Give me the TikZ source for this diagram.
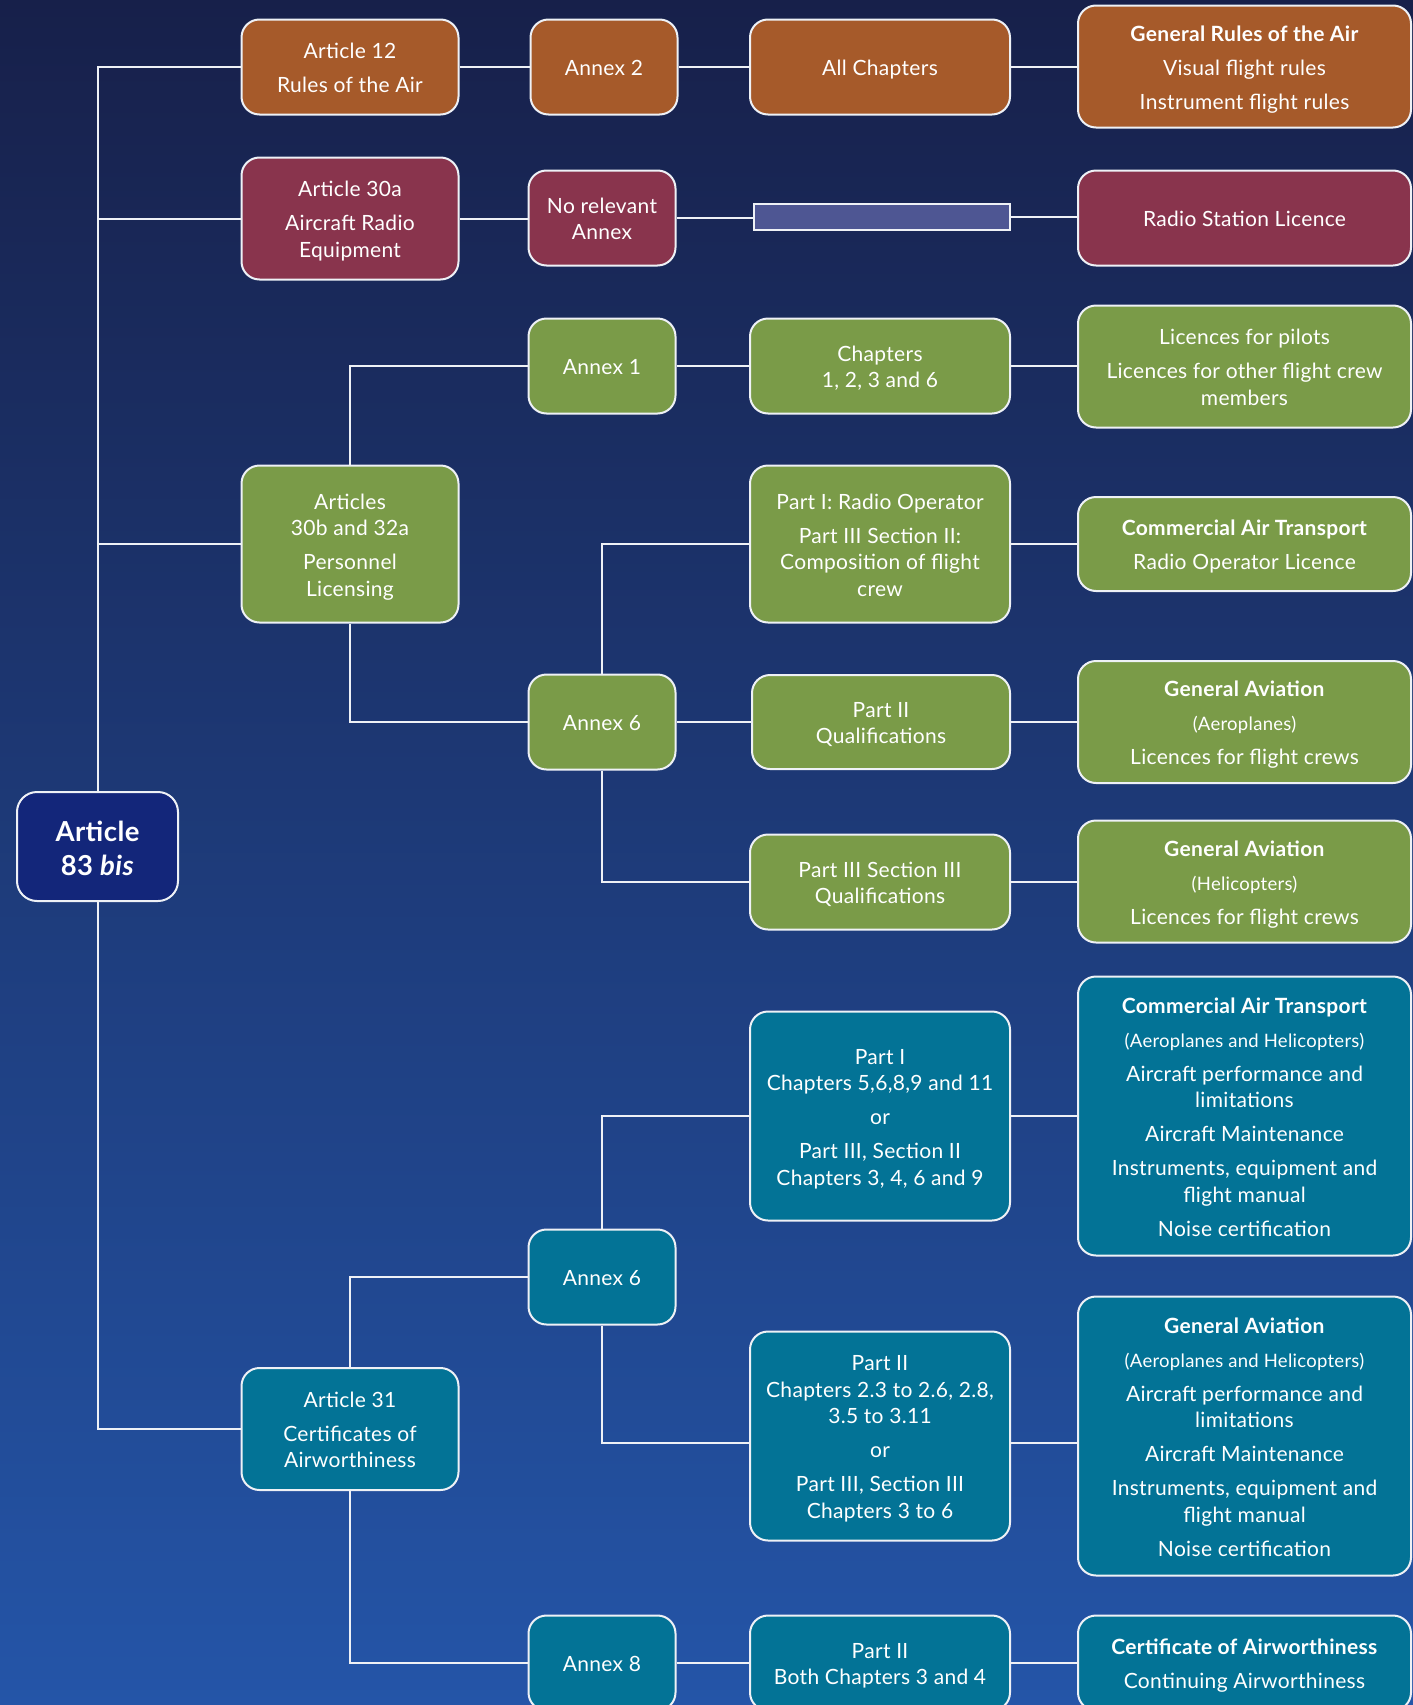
\documentclass[tikz,border=0pt]{standalone}
\usepackage{fontspec}
\setmainfont{Lato}[LetterSpace=1.5]
\usetikzlibrary{calc}
\definecolor{bgtop}{HTML}{17204A}
\definecolor{bgmid}{HTML}{1F3670}
\definecolor{bgbot}{HTML}{2455A8}
\definecolor{orangeb}{HTML}{A65A2A}
\definecolor{maroonb}{HTML}{89344D}
\definecolor{greenb}{HTML}{7A9B48}
\definecolor{tealb}{HTML}{037396}
\definecolor{navyb}{HTML}{13267A}
\definecolor{barb}{HTML}{4E5693}
\definecolor{linec}{HTML}{EEF1F6}
\newcommand\smtxt[1]{{\fontsize{18.5}{22}\selectfont #1}}
\newcommand\boxtext[2][25.4pt]{\begin{tabular}{@{}c@{}}\rule{0pt}{#1}#2\end{tabular}}
\begin{document}
\begin{tikzpicture}[x=1pt,y=-1pt,
  box/.style={draw=linec, line width=2pt, rounded corners=18pt, text=white,
    inner sep=0pt, font=\fontsize{21}{26.5}\selectfont},
  ctwo/.style={minimum width=217pt},
  cthree/.style={minimum width=147pt},
  cfour/.style={minimum width=260pt},
  cfive/.style={minimum width=333pt},
  conn/.style={draw=linec, line width=2pt}]
\useasboundingbox (0,0) rectangle (1413,1705);
\shade[top color=bgtop, middle color=bgmid, bottom color=bgbot] (0,0) rectangle (1413,1705);

% root
\node[box, fill=navyb, minimum width=161pt, minimum height=109pt, rounded corners=20pt,
  font=\fontsize{27.5}{34}\selectfont\bfseries] (art83) at (97.5,846.5) {\boxtext[33.8pt]{Article\\83 \textit{bis}}};

% column 2
\node[box, ctwo, fill=orangeb, minimum height=95pt] (art12) at (350,67) {\boxtext{Article 12\\[7.5pt]Rules of the Air}};
\node[box, ctwo, fill=maroonb, minimum height=122pt] (art30a) at (350,218.5) {\boxtext{Article 30a\\[7.5pt]Aircraft Radio\\Equipment}};
\node[box, ctwo, fill=greenb, minimum height=157pt] (art30b) at (350,544) {\boxtext{Articles\\30b and 32a\\[7.5pt]Personnel\\Licensing}};
\node[box, ctwo, fill=tealb, minimum height=122pt] (art31) at (350,1429) {\boxtext{Article 31\\[7.5pt]Certificates of\\Airworthiness}};

% column 3
\node[box, cthree, fill=orangeb, minimum height=95pt] (annex2) at (604,67) {\boxtext{Annex 2}};
\node[box, cthree, fill=maroonb, minimum height=95pt] (norel) at (602,218) {\boxtext{No relevant\\Annex}};
\node[box, cthree, fill=greenb, minimum height=95pt] (annex1) at (602,366) {\boxtext{Annex 1}};
\node[box, cthree, fill=greenb, minimum height=95pt] (annex6g) at (602,722) {\boxtext{Annex 6}};
\node[box, cthree, fill=tealb, minimum height=95pt] (annex6t) at (602,1277) {\boxtext{Annex 6}};
\node[box, cthree, fill=tealb, minimum height=95pt] (annex8) at (602,1663) {\boxtext{Annex 8}};

% column 4
\node[box, cfour, fill=orangeb, minimum height=95pt] (allch) at (880,67) {\boxtext{All Chapters}};
\node[draw=linec, line width=2pt, fill=barb, minimum width=256pt, minimum height=26pt, inner sep=0pt] (bar) at (882,217) {};
\node[box, cfour, fill=greenb, minimum height=95pt] (chap1236) at (880,366) {\boxtext{Chapters\\1, 2, 3 and 6}};
\node[box, cfour, fill=greenb, minimum height=157pt] (partIradio) at (880,544) {\boxtext{Part I: Radio Operator\\[7.5pt]Part III Section II:\\Composition of flight\\crew}};
\node[box, cfour, fill=greenb, minimum height=94pt, minimum width=258pt] (partIIqual) at (881,722) {\boxtext{Part II\\Qualifications}};
\node[box, cfour, fill=greenb, minimum height=95pt] (partIIIs3) at (880,882) {\boxtext{Part III Section III\\Qualifications}};
\node[box, cfour, fill=tealb, minimum height=209pt] (partIch) at (880,1116) {\boxtext{Part I\\Chapters 5,6,8,9 and 11\\[7.5pt]or\\[7.5pt]Part III, Section II\\Chapters 3, 4, 6 and 9}};
\node[box, cfour, fill=tealb, minimum height=209pt] (partIIch) at (880,1436) {\boxtext{Part II\\Chapters 2.3 to 2.6, 2.8,\\3.5 to 3.11\\[7.5pt]or\\[7.5pt]Part III, Section III\\Chapters 3 to 6}};
\node[box, cfour, fill=tealb, minimum height=95pt] (partIIboth) at (880,1663) {\boxtext{Part II\\Both Chapters 3 and 4}};

% column 5
\node[box, cfive, fill=orangeb, minimum height=122pt] (genrules) at (1244.5,66.5) {\boxtext{\textbf{General Rules of the Air}\\[7.5pt]Visual flight rules\\[7.5pt]Instrument flight rules}};
\node[box, cfive, fill=maroonb, minimum height=95pt] (radiost) at (1244.5,218) {\boxtext{Radio Station Licence}};
\node[box, cfive, fill=greenb, minimum height=122pt] (licpilots) at (1244.5,366.5) {\boxtext{Licences for pilots\\[7.5pt]Licences for other flight crew\\members}};
\node[box, cfive, fill=greenb, minimum height=94pt] (catradio) at (1244.5,544) {\boxtext{\textbf{Commercial Air Transport}\\[7.5pt]Radio Operator Licence}};
\node[box, cfive, fill=greenb, minimum height=122pt] (gaaero) at (1244.5,722) {\boxtext{\textbf{General Aviation}\\[7.5pt]\smtxt{(Aeroplanes)}\\[7.5pt]Licences for flight crews}};
\node[box, cfive, fill=greenb, minimum height=122pt] (gaheli) at (1244.5,881.5) {\boxtext{\textbf{General Aviation}\\[7.5pt]\smtxt{(Helicopters)}\\[7.5pt]Licences for flight crews}};
\node[box, cfive, fill=tealb, minimum height=279pt] (catah) at (1244.5,1116) {\boxtext{\textbf{Commercial Air Transport}\\[7.5pt]\smtxt{(Aeroplanes and Helicopters)}\\[7.5pt]Aircraft performance and\\limitations\\[7.5pt]Aircraft Maintenance\\[7.5pt]Instruments, equipment and\\flight manual\\[7.5pt]Noise certification}};
\node[box, cfive, fill=tealb, minimum height=279pt] (gaah) at (1244.5,1436) {\boxtext{\textbf{General Aviation}\\[7.5pt]\smtxt{(Aeroplanes and Helicopters)}\\[7.5pt]Aircraft performance and\\limitations\\[7.5pt]Aircraft Maintenance\\[7.5pt]Instruments, equipment and\\flight manual\\[7.5pt]Noise certification}};
\node[box, cfive, fill=tealb, minimum height=95pt] (cert) at (1244.5,1663) {\boxtext{\textbf{Certificate of Airworthiness}\\[7.5pt]Continuing Airworthiness}};

% trunk connectors
\draw[conn] (art83.north) |- (art12.west);
\draw[conn] (art83.north) |- (art30a.west);
\draw[conn] (art83.north) |- (art30b.west);
\draw[conn] (art83.south) |- (art31.west);

% row 1
\draw[conn] (art12.east) -- (annex2.west);
\draw[conn] (annex2.east) -- (allch.west);
\draw[conn] (allch.east) -- (allch.east -| genrules.west);
% row 2
\draw[conn] (art30a.east) -- (art30a.east -| norel.west);
\draw[conn] (norel.east) -- (norel.east -| bar.west);
\draw[conn] (bar.east) -- (bar.east -| radiost.west);
% personnel licensing
\draw[conn] (art30b.north) |- (annex1.west);
\draw[conn] (annex1.east) -- (chap1236.west);
\draw[conn] (chap1236.east) -- (chap1236.east -| licpilots.west);
\draw[conn] (art30b.south) |- (annex6g.west);
\draw[conn] (annex6g.north) |- (partIradio.west);
\draw[conn] (partIradio.east) -- (catradio.west);
\draw[conn] (annex6g.east) -- (partIIqual.west);
\draw[conn] (partIIqual.east) -- (gaaero.west);
\draw[conn] (annex6g.south) |- (partIIIs3.west);
\draw[conn] (partIIIs3.east) -- (partIIIs3.east -| gaheli.west);
% airworthiness
\draw[conn] (art31.north) |- (annex6t.west);
\draw[conn] (annex6t.north) |- (partIch.west);
\draw[conn] (partIch.east) -- (catah.west);
\draw[conn] (annex6t.south) |- ($(partIIch.west)+(0,7)$);
\draw[conn] ($(partIIch.east)+(0,7)$) -- ($(gaah.west)+(0,7)$);
\draw[conn] (art31.south) |- (annex8.west);
\draw[conn] (annex8.east) -- (partIIboth.west);
\draw[conn] (partIIboth.east) -- (cert.west);
\end{tikzpicture}
\end{document}
